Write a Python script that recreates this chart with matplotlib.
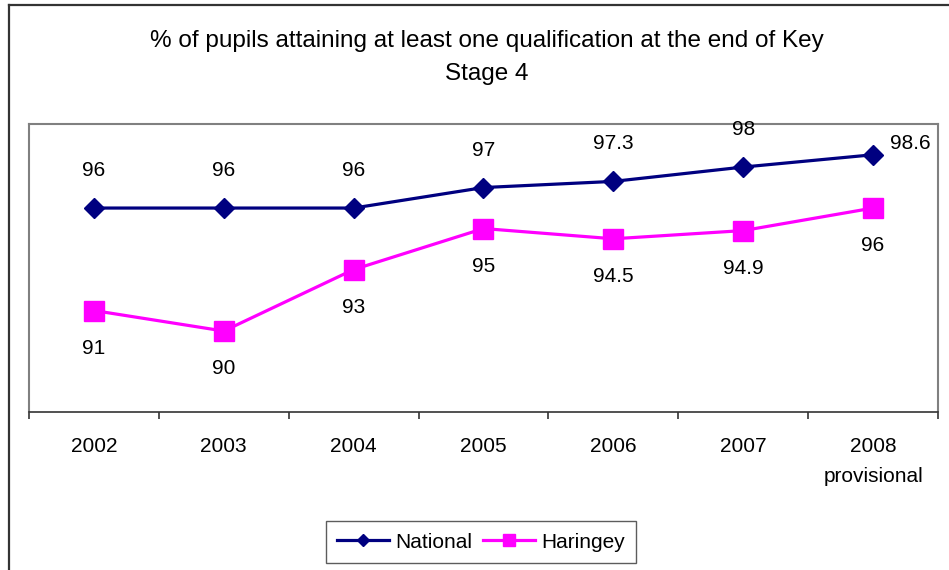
import matplotlib.pyplot as plt
from matplotlib.lines import Line2D

plt.rcParams['font.family'] = ['Liberation Sans', 'DejaVu Sans']

years = ['2002', '2003', '2004', '2005', '2006', '2007', '2008\nprovisional']
national = [96, 96, 96, 97, 97.3, 98, 98.6]
haringey = [91, 90, 93, 95, 94.5, 94.9, 96]
national_labels = ['96', '96', '96', '97', '97.3', '98', '98.6']
haringey_labels = ['91', '90', '93', '95', '94.5', '94.9', '96']

NAVY = '#000080'
MAGENTA = '#FF00FF'


def draw_chart(file_name):
    fig = plt.figure(figsize=(9.49, 5.70), dpi=100)
    ax = fig.add_axes([29 / 949, 1 - 412 / 570, 909 / 949, 288 / 570])

    x = list(range(len(years)))
    ax.plot(x, national, color=NAVY, lw=2.3, marker='D', ms=10.5,
            label='National', zorder=3)
    ax.plot(x, haringey, color=MAGENTA, lw=2.3, marker='s', ms=14,
            label='Haringey', zorder=3)

    # value labels: national above, haringey below, last national to the right
    for i, (v, t) in enumerate(zip(national, national_labels)):
        off = (0, 27) if i < len(x) - 1 else (27, 8)
        ax.annotate(t, (i, v), xytext=off, textcoords='offset points',
                    ha='center', va='center', fontsize=15)
    for i, (v, t) in enumerate(zip(haringey, haringey_labels)):
        ax.annotate(t, (i, v), xytext=(0, -27), textcoords='offset points',
                    ha='center', va='center', fontsize=15)

    ax.set_xlim(-0.5, len(x) - 0.5)
    ax.set_ylim(86.05, 100.1)
    ax.set_yticks([])
    ax.set_xticks(x)
    ax.set_xticklabels(years, fontsize=15, linespacing=1.75)
    ax.set_xticks([i - 0.5 for i in range(len(x) + 1)], minor=True)
    ax.tick_params(axis='x', which='major', length=0, pad=18)
    ax.tick_params(axis='x', which='minor', length=5, width=1.2,
                   color='#333333', direction='out')

    for side in ['left', 'top', 'right']:
        ax.spines[side].set_color('#808080')
        ax.spines[side].set_linewidth(1.5)
    ax.spines['bottom'].set_color('#333333')
    ax.spines['bottom'].set_linewidth(1.2)

    fig.text(487 / 949, 1 - 57.5 / 570,
             '% of pupils attaining at least one qualification at the end of Key\nStage 4',
             ha='center', va='center', fontsize=17.5, linespacing=1.62)

    leg = fig.legend(loc='center', bbox_to_anchor=(481 / 949, 1 - 542 / 570),
                     ncol=2, fontsize=15, frameon=True, fancybox=False,
                     handlelength=2.5, handletextpad=0.3, columnspacing=0.5,
                     borderpad=0.55, markerscale=0.6)
    leg.get_frame().set_edgecolor('#333333')
    leg.get_frame().set_linewidth(1.0)

    # outer chart frame (left and top edges)
    fig.add_artist(Line2D([9 / 949, 9 / 949], [0, 1 - 5 / 570],
                          color='#333333', lw=1.6))
    fig.add_artist(Line2D([9 / 949, 1], [1 - 5 / 570, 1 - 5 / 570],
                          color='#333333', lw=1.6))

    fig.savefig(file_name, dpi=100)
    plt.close(fig)


if __name__ == '__main__':
    draw_chart('out.png')
